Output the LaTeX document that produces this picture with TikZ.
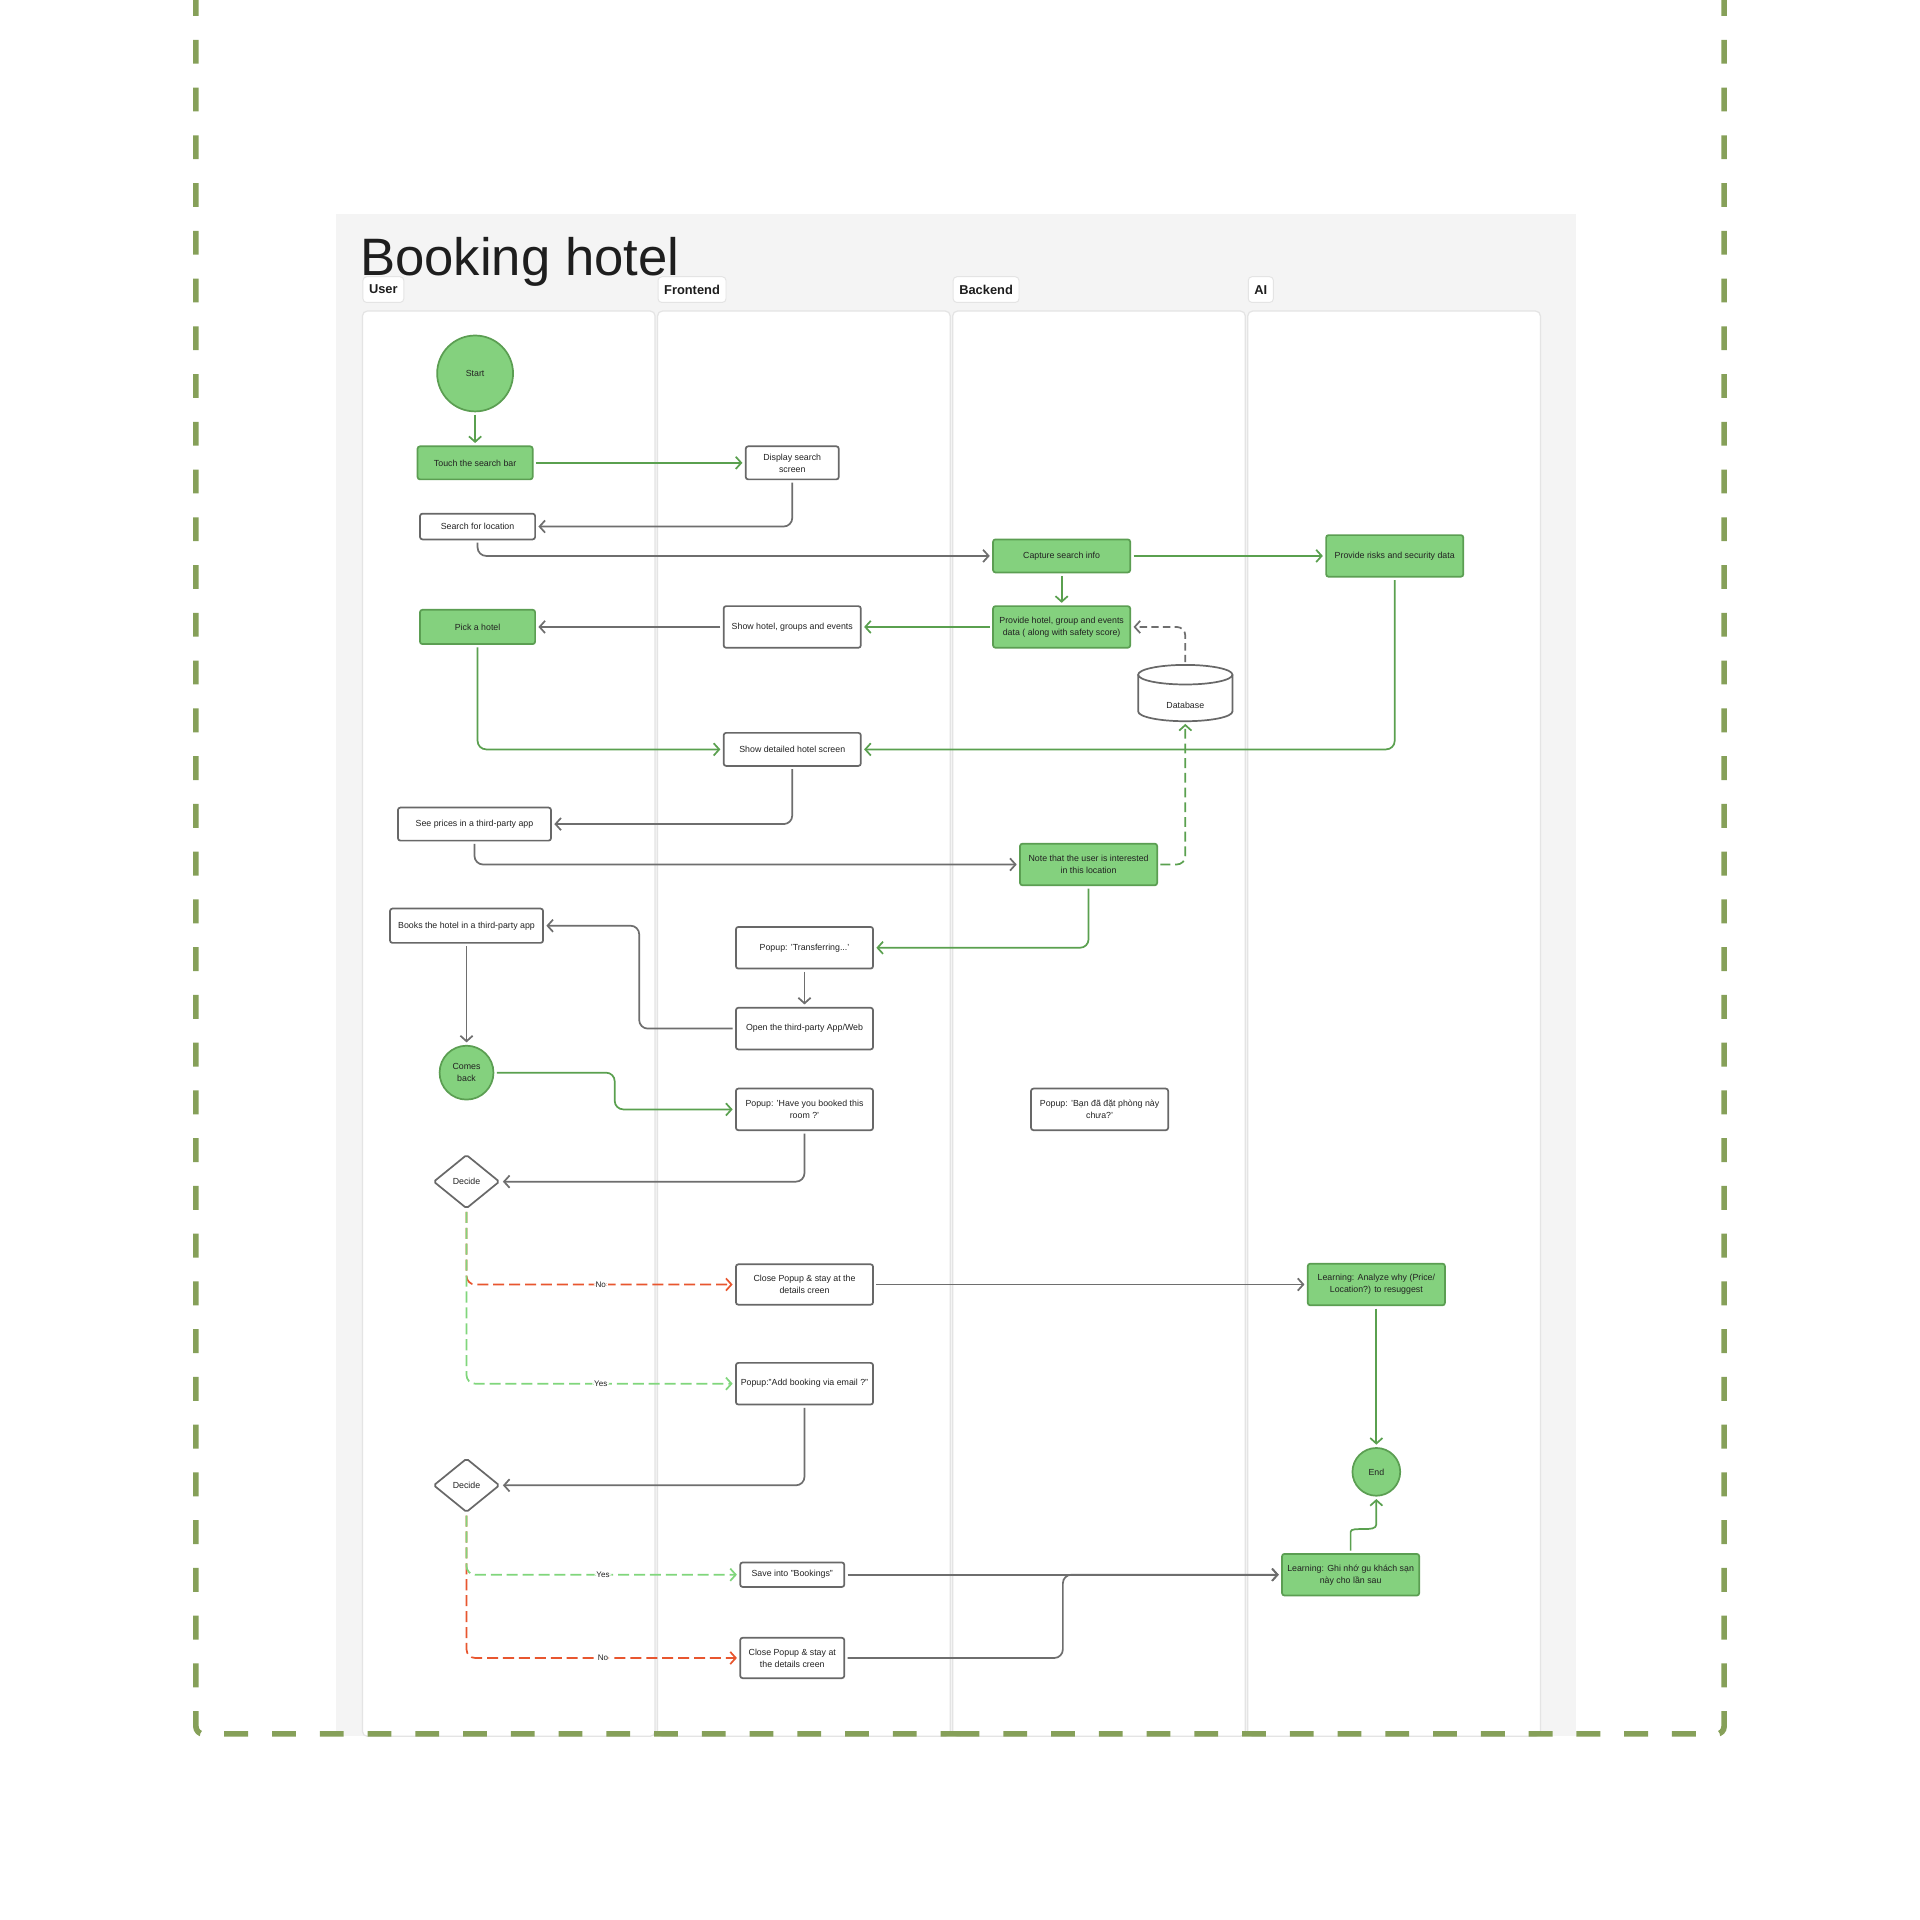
\documentclass[tikz,border=0pt]{standalone}
\usepackage{fontspec}
\setmainfont{Liberation Sans}
\usetikzlibrary{arrows.meta,shapes.geometric}
\definecolor{gfill}{HTML}{84D17E}
\definecolor{gborder}{HTML}{5B9E52}
\definecolor{gline}{HTML}{5AA04F}
\definecolor{kline}{HTML}{6E6E6E}
\definecolor{wborder}{HTML}{686868}
\definecolor{rline}{HTML}{E8562F}
\definecolor{lgline}{HTML}{80D67C}
\definecolor{olive}{HTML}{86A059}
\definecolor{panel}{HTML}{F4F4F4}
\definecolor{laneb}{HTML}{E4E4E4}
\definecolor{txt}{HTML}{222222}
\definecolor{ttl}{HTML}{1E1E1E}
\newcommand\nfnt{\fontsize{7.2}{9.8}\selectfont}
\newcommand\lfnt{\fontsize{6.6}{8}\selectfont}
\begin{document}
\begin{tikzpicture}[x=1pt,y=-1pt,
  base/.style={line width=1.4pt, rounded corners=2pt, inner sep=0pt, align=center, font=\nfnt, text=txt},
  gbox/.style={base, draw=gborder, fill=gfill},
  wbox/.style={base, draw=wborder, fill=white},
  gcirc/.style={circle, draw=gborder, fill=gfill, line width=1.4pt, inner sep=0pt, align=center, font=\nfnt, text=txt},
  decbox/.style={diamond, draw=wborder, fill=white, line width=1.4pt, rounded corners=1.5pt, inner sep=0pt, minimum width=54pt, minimum height=44pt, font=\nfnt, text=txt},
  con/.style={line width=1.4pt, rounded corners=7pt, -{Straight Barb[length=4.5pt,width=10pt]}, shorten >=2pt, shorten <=2pt},
  gcon/.style={con, draw=gline},
  kcon/.style={con, draw=kline},
  rcon/.style={con, draw=rline, dash pattern=on 9pt off 4pt},
  lgcon/.style={con, draw=lgline, dash pattern=on 9pt off 4pt},
  lbl/.style={fill=white, inner sep=1.5pt, font=\lfnt, text=txt},
  lane/.style={fill=white, draw=laneb, line width=1pt, rounded corners=4pt},
  hdr/.style={draw=laneb, fill=white, line width=0.8pt, rounded corners=3pt, minimum height=21pt, inner xsep=5pt, inner ysep=0pt, anchor=west, font=\bfseries\fontsize{10.5}{12}\selectfont, text=ttl},
  border/.style={draw=olive, line width=4.6pt, rounded corners=6pt, dash pattern=on 19.5pt off 19.5pt}
]
\useasboundingbox (0,0) rectangle (1568,1568);
\fill[white] (0,0) rectangle (1568,1568);
% panel and lanes
\fill[panel] (274,175) rectangle (1287,1418);
\foreach \lx in {296,537,778,1019} {
  \draw[lane] (\lx,254) rectangle ++(239,1164);
}
\node[anchor=base west, inner sep=0pt, font=\fontsize{43}{48}\selectfont, text=ttl] (title) at (294,225) {Booking hotel};
\node[hdr] (hU) at (296,236.5) {User};
\node[hdr] (hF) at (537,236.5) {Frontend};
\node[hdr] (hB) at (778,236.5) {Backend};
\node[hdr] (hA) at (1019,236.5) {AI};

% nodes
\node[gcirc, minimum size=62pt] (start) at (388,305) {Start};
\node[gbox, minimum width=94pt, minimum height=27pt] (touch) at (388,378) {Touch the search bar};
\node[wbox, minimum width=76pt, minimum height=27pt] (disp) at (647,378) {Display search\\screen};
\node[wbox, minimum width=94pt, minimum height=21pt] (search) at (390,430) {Search for location};
\node[gbox, minimum width=112pt, minimum height=27pt] (capture) at (867,454) {Capture search info};
\node[gbox, minimum width=112pt, minimum height=34pt] (risks) at (1139,454) {Provide risks and security data};
\node[gbox, minimum width=112pt, minimum height=34pt] (prov) at (867,512) {Provide hotel, group and events\\data ( along with safety score)};
\node[wbox, minimum width=112pt, minimum height=34pt] (showh) at (647,512) {Show hotel, groups and events};
\node[gbox, minimum width=94pt, minimum height=28pt] (pick) at (390,512) {Pick a hotel};
% database
\filldraw[draw=wborder, fill=white, line width=1.4pt] (929.5,551) -- (929.5,581) arc[start angle=180, end angle=0, x radius=38.5, y radius=8] -- (1006.5,551);
\filldraw[draw=wborder, fill=white, line width=1.4pt] (968,551) ellipse[x radius=38.5, y radius=8];
\node[inner sep=0pt, minimum width=77pt, minimum height=46pt] (db) at (968,566) {};
\node[font=\nfnt, text=txt, inner sep=0pt] (dbtxt) at (968,576) {Database};
\node[wbox, minimum width=112pt, minimum height=27pt] (detail) at (647,612) {Show detailed hotel screen};
\node[wbox, minimum width=125pt, minimum height=27pt] (prices) at (387.5,673) {See prices in a third-party app};
\node[gbox, minimum width=112pt, minimum height=34pt] (note) at (889,706) {Note that the user is interested\\in this location};
\node[wbox, minimum width=125pt, minimum height=28pt] (books) at (381,756) {Books the hotel in a third-party app};
\node[wbox, minimum width=112pt, minimum height=34pt] (trans) at (657,774) {Popup: 'Transferring...'};
\node[wbox, minimum width=112pt, minimum height=34pt] (open) at (657,840) {Open the third-party App/Web};
\node[gcirc, minimum size=44pt] (comes) at (381,876) {Comes\\back};
\node[wbox, minimum width=112pt, minimum height=34pt] (have) at (657,906) {Popup: 'Have you booked this\\room ?'};
\node[wbox, minimum width=112pt, minimum height=34pt] (ban) at (898,906) {Popup: 'Bạn đã đặt phòng này\\chưa?'};
\node[decbox] (dec1) at (381,965) {Decide};
\node[wbox, minimum width=112pt, minimum height=33pt] (close1) at (657,1049) {Close Popup \& stay at the\\details creen};
\node[gbox, minimum width=112pt, minimum height=34pt] (learn1) at (1124,1049) {Learning: Analyze why (Price/\\Location?) to resuggest};
\node[wbox, minimum width=112pt, minimum height=34pt] (addbk) at (657,1130) {Popup:"Add booking via email ?"};
\node[decbox] (dec2) at (381,1213) {Decide};
\node[gcirc, minimum size=39pt] (end) at (1124,1202) {End};
\node[wbox, minimum width=85pt, minimum height=20pt] (save) at (647,1286) {Save into "Bookings"};
\node[gbox, minimum width=112pt, minimum height=34pt] (learn2) at (1103,1286) {Learning: Ghi nhớ gu khách sạn\\này cho lần sau};
\node[wbox, minimum width=85pt, minimum height=33pt] (close2) at (647,1354) {Close Popup \& stay at\\the details creen};

% connectors
\draw[gcon] (start.south) -- (touch.north);
\draw[gcon] (touch.east) -- (disp.west);
\draw[kcon] (disp.south) |- (search.east);
\draw[kcon] (search.south) |- (capture.west);
\draw[gcon] (capture.east) -- (risks.west);
\draw[gcon] (capture.south) -- (prov.north);
\draw[gcon] (prov.west) -- (showh.east);
\draw[kcon] (showh.west) -- (pick.east);
\draw[kcon, dash pattern=on 6pt off 3.5pt] (db.north) |- (prov.east);
\draw[gcon] (pick.south) |- (detail.west);
\draw[gcon] (risks.south) |- (detail.east);
\draw[kcon] (detail.south) |- (prices.east);
\draw[kcon] (prices.south) |- (note.west);
\draw[gcon, dash pattern=on 8pt off 4pt] (note.east) -| (db.south);
\draw[gcon] (note.south) |- (trans.east);
\draw[kcon] (trans.south) -- (open.north);
\draw[kcon] (open.west) -- (522,840) |- (books.east);
\draw[kcon] (books.south) -- (comes.north);
\draw[gcon] (comes.east) -- (502,876) |- (have.west);
\draw[kcon] (have.south) |- (dec1.east);
\draw[rcon] (dec1.south) |- node[lbl, pos=0.75] (no1) {No} (close1.west);
\draw[lgcon] (dec1.south) |- node[lbl, pos=0.75] (yes1) {Yes} (addbk.west);
\draw[kcon] (close1.east) -- (learn1.west);
\draw[gcon] (learn1.south) -- (end.north);
\draw[kcon] (addbk.south) |- (dec2.east);
\draw[rcon] (dec2.south) |- node[lbl, pos=0.75] (no2) {No} (close2.west);
\draw[lgcon] (dec2.south) |- node[lbl, pos=0.75] (yes2) {Yes} (save.west);
\draw[kcon] (close2.east) -| (868,1286) -- (learn2.west);
\draw[kcon] (save.east) -- (learn2.west);
\draw[gcon] (learn2.north) -- (1103,1258) .. controls (1103,1246) and (1124,1252) .. (1124,1238) -- (end.south);

% outer dashed border
\begin{scope}
\clip (0,0) rectangle (1568,1568);
\draw[border] (160,-6.5) -- (160,1416) -- (784,1416);
\draw[border] (1408,-6.5) -- (1408,1416) -- (784,1416);
\end{scope}
\end{tikzpicture}
\end{document}
